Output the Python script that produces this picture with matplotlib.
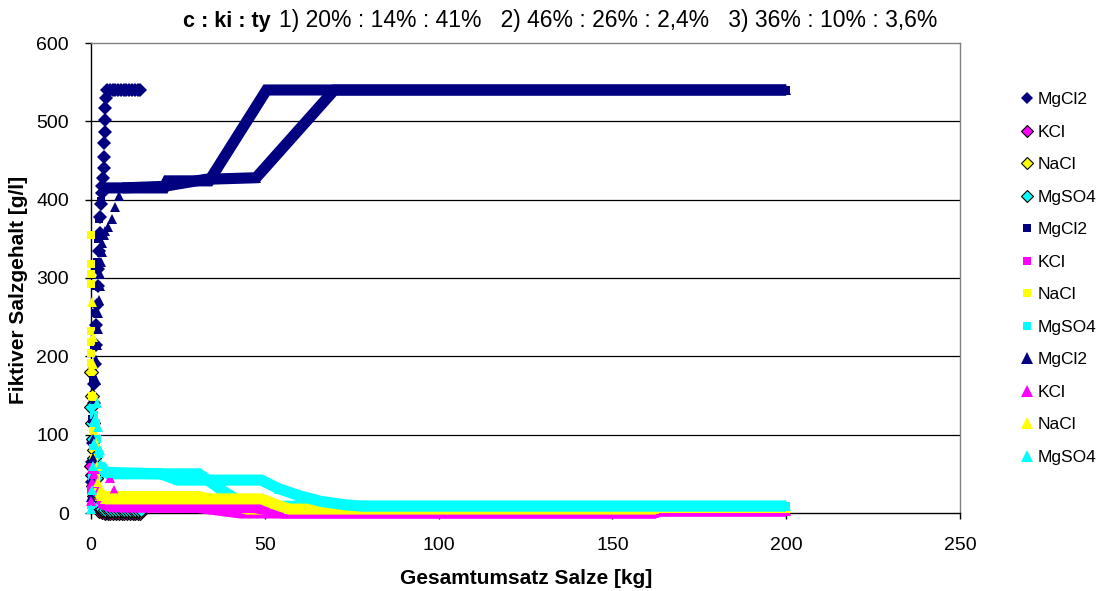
import matplotlib
matplotlib.use("Agg")
import matplotlib.pyplot as plt
from matplotlib.lines import Line2D

plt.rcParams['font.family'] = ['Liberation Sans', 'DejaVu Sans']

# ---------------------------------------------------------------------------
# Data: Gesamtumsatz Salze [kg] (x) vs. fiktiver Salzgehalt [g/l] (y)
# Three raw-salt mixtures c : ki : ty, four salts each
# ---------------------------------------------------------------------------
salt_names = ["MgCl2", "KCl", "NaCl", "MgSO4"]
salt_colors = ["#000080", "#FF00FF", "#FFFF00", "#00FFFF"]

# Mixture 1) 20% : 14% : 41%  (diamonds)
d_mgcl2_x = [0.2, 0.35, 0.5, 0.65, 0.8, 0.95, 1.1, 1.3, 1.5, 1.7, 1.9, 2.1, 2.3, 2.5, 2.7,
             2.9, 3.1, 3.3, 3.5, 3.6, 3.7, 3.8, 3.9, 4.0, 4.1, 4.3, 4.6, 5.4, 6.2, 7.0,
             7.8, 8.6, 9.4, 10.2, 11.0, 11.8, 12.6, 13.4, 14.2]
d_mgcl2_y = [40, 65, 90, 115, 140, 165, 190, 215, 240, 265, 290, 312, 335, 357, 378,
             395, 408, 418, 428, 440, 454, 472, 487, 502, 517, 530, 540, 540, 540, 540,
             540, 540, 540, 540, 540, 540, 540, 540, 540]
d_kcl_x = [0.1, 0.3, 0.6, 0.9, 1.3, 1.8, 2.4, 3.2, 4.0, 4.8, 5.6, 6.4, 7.2, 8.0, 8.8,
           9.6, 10.4, 11.2, 12.0, 12.8, 13.6, 14.2]
d_kcl_y = [60, 48, 34, 22, 12, 6, 3, 1, 0, 0, 0, 0, 0, 0, 0, 0, 0, 0, 0, 0, 0, 0]
d_nacl_x = [0.1, 0.3, 0.6, 0.9, 1.3, 1.8, 2.4, 3.2, 4.0, 4.8, 5.6, 6.4, 7.2, 8.0, 8.8,
            9.6, 10.4, 11.2, 12.0, 12.8, 13.6, 14.2]
d_nacl_y = [180, 150, 115, 80, 45, 20, 8, 4, 3, 3, 3, 3, 3, 3, 3, 3, 3, 3, 3, 3, 3, 3]
d_mgso4_x = [0.1, 0.3, 0.6, 0.9, 1.3, 1.8, 2.4, 3.2, 4.0, 4.8, 5.6, 6.4, 7.2, 8.0, 8.8,
             9.6, 10.4, 11.2, 12.0, 12.8, 13.6, 14.4]
d_mgso4_y = [135, 115, 95, 70, 45, 25, 10, 5, 4, 4, 4, 4, 4, 4, 4, 4, 4, 4, 4, 4, 4, 4]

# Mixture 2) 46% : 26% : 2,4%  (squares)
s_mgcl2_x = [0.3, 0.6, 0.9, 1.2, 1.5, 1.8, 2.1, 2.4, 2.8, 3.5, 21, 22, 34, 50.5, 200]
s_mgcl2_y = [120, 170, 215, 255, 290, 320, 350, 375, 398, 415, 415, 424, 424, 540, 540]
s_kcl_x = [0.0, 0.4, 0.8, 1.2, 1.7, 2.3, 3.2, 5.5, 31, 43, 162, 163, 200]
s_kcl_y = [30, 55, 65, 50, 35, 22, 12, 8, 7, 0, 0, 2.5, 2.5]
s_nacl_x = [0.0, 0.0, 0.0, 0.0, 0.0, 0.0, 0.0, 0.0, 0.3, 0.6, 1.0, 1.5, 2.1, 2.8, 3.5,
            31, 45, 162, 163, 200]
s_nacl_y = [355, 318, 305, 292, 232, 218, 204, 192, 150, 105, 70, 45, 30, 23, 21,
            21, 5, 5, 7, 7]
s_mgso4_x = [0.0, 0.3, 0.6, 1.0, 1.4, 1.8, 2.3, 3.0, 4.0, 5.0, 31, 33, 38, 45, 200]
s_mgso4_y = [10, 45, 85, 125, 115, 95, 75, 60, 53, 50, 50, 44, 28, 8.7, 8.7]

# Mixture 3) 36% : 10% : 3,6%  (triangles)
t_mgcl2_x = [0.1, 0.3, 0.5, 0.7, 0.9, 1.1, 1.3, 1.5, 1.7, 1.9, 2.1, 2.3, 2.5, 2.7, 2.9,
             3.1, 3.3, 3.6, 4.0, 5.0, 6.0, 7.0, 8.0, 9.0, 21, 33, 47.5, 70, 200]
t_mgcl2_y = [20, 45, 70, 95, 120, 145, 170, 195, 215, 235, 255, 272, 290, 305, 320,
             333, 345, 355, 360, 365, 375, 390, 405, 415, 417, 426, 428, 540, 540]
t_kcl_x = [0.0, 0.3, 0.6, 1.0, 1.5, 2.0, 3.0, 4.5, 5.5, 6.5, 8.0, 47, 55, 162, 163, 200]
t_kcl_y = [15, 40, 60, 50, 38, 28, 18, 12, 45, 30, 8, 7, 0, 0, 2.5, 2.5]
t_nacl_x = [0.3, 0.5, 0.7, 0.9, 1.1, 1.3, 1.6, 2.0, 2.5, 3.0, 4.0, 49, 53, 57, 162, 163, 200]
t_nacl_y = [270, 225, 190, 150, 120, 90, 60, 40, 28, 22, 18, 18, 11, 5, 5, 7, 7]
t_mgso4_x = [0.0, 0.3, 0.6, 0.9, 1.2, 1.6, 2.0, 2.5, 3.0, 4.0, 20, 25, 49, 54, 60, 66,
             73, 78, 200]
t_mgso4_y = [5, 30, 60, 90, 120, 140, 110, 80, 62, 52, 50, 42, 42, 31, 22, 15, 10.5,
             8.7, 8.7]

x_ticks = [0, 50, 100, 150, 200, 250]
y_ticks = [0, 100, 200, 300, 400, 500, 600]

# (x, y, marker, index from which the dense run is drawn as a band, or None)
series = [
    (d_mgcl2_x, d_mgcl2_y, "D", None), (d_kcl_x, d_kcl_y, "D", None),
    (d_nacl_x, d_nacl_y, "D", None), (d_mgso4_x, d_mgso4_y, "D", None),
    (s_mgcl2_x, s_mgcl2_y, "s", 9), (s_kcl_x, s_kcl_y, "s", 6),
    (s_nacl_x, s_nacl_y, "s", 12), (s_mgso4_x, s_mgso4_y, "s", 7),
    (t_mgcl2_x, t_mgcl2_y, "^", 23), (t_kcl_x, t_kcl_y, "^", 10),
    (t_nacl_x, t_nacl_y, "^", 10), (t_mgso4_x, t_mgso4_y, "^", 9),
]

W, H = 1115, 591
fig = plt.figure(figsize=(W / 100, H / 100), dpi=100)
ax = fig.add_axes([91 / W, 1 - 513 / H, 869 / W, 470 / H])

marker_size = {"D": 6.8, "s": 5.8, "^": 7.0}
legend_size = {"D": 6.5, "s": 6.0, "^": 8.0}
handles = []
for i, (xs, ys, mk, k) in enumerate(series):
    col = salt_colors[i % 4]
    edge = "black" if (mk == "D" and i % 4 != 0) else col
    z = 3 + i
    if k is not None:
        ax.plot(xs[k:], ys[k:], color=col, lw=8.0, solid_capstyle="butt",
                solid_joinstyle="miter", zorder=z, clip_on=False)
    ax.plot(xs, ys, ls="none", marker=mk, ms=marker_size[mk], mfc=col, mec=edge,
            mew=0.8 if edge == "black" else 0.0, zorder=z, clip_on=False)
    handles.append(Line2D([], [], ls="none", marker=mk, ms=legend_size[mk],
                          mfc=col, mec=edge, mew=0.8 if edge == "black" else 0.0,
                          label=salt_names[i % 4]))

ax.set_xlim(0, 250)
ax.set_ylim(0, 600)
ax.set_xticks(x_ticks)
ax.set_yticks(y_ticks)
ax.tick_params(axis="both", direction="out", length=4, width=1, labelsize=14,
               colors="black")
ax.tick_params(axis="y", pad=12)
ax.tick_params(axis="x", pad=13)
for yv in y_ticks[1:-1]:
    ax.axhline(yv, color="black", lw=0.9, zorder=1)
for side in ("top", "right"):
    ax.spines[side].set_color("#808080")
    ax.spines[side].set_linewidth(1.0)
for side in ("left", "bottom"):
    ax.spines[side].set_color("black")
    ax.spines[side].set_linewidth(1.0)

fig.text(526 / W, 1 - 578 / H, "Gesamtumsatz Salze [kg]", ha="center", va="center",
         fontsize=15, fontweight="bold")
fig.text(19 / W, 1 - 290 / H, "Fiktiver Salzgehalt [g/l]", ha="center", va="center",
         rotation=90, fontsize=15, fontweight="bold")

fig.text(271 / W, 1 - 21 / H, "c : ki : ty", ha="right", va="center", fontsize=15.5,
         fontweight="bold")
fig.text(279 / W, 1 - 21 / H, "1) 20% : 14% : 41%   2) 46% : 26% : 2,4%   3) 36% : 10% : 3,6%",
         ha="left", va="center", fontsize=16.5)

fig.legend(handles=handles, loc="upper left", bbox_to_anchor=(1022 / W, 1 - 92 / H),
           frameon=False, fontsize=12.5, handlelength=0.6, handletextpad=0.3,
           labelspacing=1.0, borderpad=0, borderaxespad=0)

fig.savefig("out.png", dpi=100)
